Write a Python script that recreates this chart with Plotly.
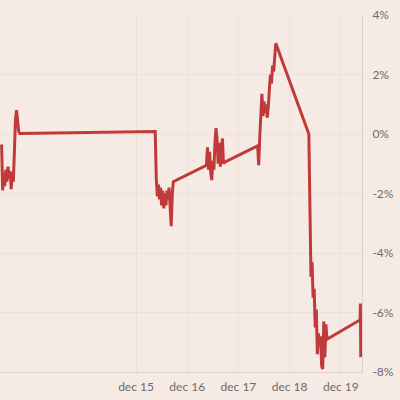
import pandas as pd
import plotly.graph_objects as go

# intraday % change, sampled every 30 minutes from the open (09:00)
dec12_values = [-0.35, -1.9, -1.3, -1.75, -1.2, -1.6, -1.1, -1.5, -1.25,
                -1.85, -1.3, -1.6, -0.6, 0.5, 0.8, 0.35, 0.1, 0.02]
dec15_values = [0.08, -1.5, -2.1, -1.7, -2.2, -1.8, -2.4, -1.9, -2.5,
                -2.0, -2.4, -1.9, -2.2, -1.8, -2.6, -3.1, -2.0, -1.6]
dec16_values = [-1.05, -0.45, -1.2, -0.6, -1.3, -1.55, -0.9, -1.2, -0.3,
                0.2, -0.2, -1.0, -0.3, -1.1, -0.6, -0.15, -1.0, -0.95]
dec17_values = [-0.4, -1.05, -0.1, 1.0, 1.35, 0.6, 1.1, 0.7, 1.0,
                0.55, 0.9, 1.5, 2.0, 1.7, 2.3, 2.1, 2.75, 3.05]
dec18_values = [0.0, -3.0, -4.8, -4.3, -5.5, -5.2, -6.5, -5.9, -7.4,
                -6.7, -7.1, -6.8, -7.8, -7.9, -6.3, -7.5, -6.4, -6.9]
# first minutes of dec 19, sampled every 10 minutes
dec19_values = [-6.25, -5.7, -7.5]

sessions = [
    ("2014-12-12 09:00", 30, dec12_values),
    ("2014-12-15 09:00", 30, dec15_values),
    ("2014-12-16 09:00", 30, dec16_values),
    ("2014-12-17 09:00", 30, dec17_values),
    ("2014-12-18 09:00", 30, dec18_values),
    ("2014-12-19 09:00", 10, dec19_values),
]

x_tick_dates = ["2014-12-15", "2014-12-16", "2014-12-17", "2014-12-18", "2014-12-19"]
x_tick_labels = ["dec 15", "dec 16", "dec 17", "dec 18", "dec 19"]
y_tick_values = [4, 2, 0, -2, -4, -6, -8]
y_tick_labels = ["4%", "2%", "0%", "-2%", "-4%", "-6%", "-8%"]

frames = []
for start, step, values in sessions:
    times = pd.date_range(start, periods=len(values), freq=f"{step}min")
    frames.append(pd.DataFrame({"time": times, "change": values}))
df = pd.concat(frames, ignore_index=True)

fig = go.Figure()
fig.add_trace(
    go.Scatter(
        x=df["time"],
        y=df["change"],
        mode="lines",
        line=dict(color="#c13a3a", width=3),
        hoverinfo="skip",
    )
)

bg = "#f6eae4"
fig.update_layout(
    width=400,
    height=400,
    margin=dict(l=0, r=38, t=15, b=28),
    paper_bgcolor=bg,
    plot_bgcolor=bg,
    showlegend=False,
    font=dict(family="Lato", size=12, color="#6e6a68"),
)

fig.update_xaxes(
    range=["2014-12-12 08:15", "2014-12-19 09:55"],
    tickvals=x_tick_dates,
    ticktext=x_tick_labels,
    showgrid=True,
    gridcolor="#efe0d6",
    gridwidth=1,
    showline=True,
    linecolor="#ddd0c8",
    linewidth=1,
    ticks="",
    ticklabelstandoff=4,
    zeroline=False,
)
fig.update_yaxes(
    range=[-8, 4],
    side="right",
    tickvals=y_tick_values,
    ticktext=y_tick_labels,
    showgrid=True,
    gridcolor="#efe0d6",
    gridwidth=1,
    showline=True,
    linecolor="#ddd0c8",
    linewidth=1,
    ticks="",
    ticklabelstandoff=7,
    zeroline=False,
)

# drop the browser's default page margin so the chart sits at the corner
fig.write_html(
    "out.html",
    config={"displayModeBar": False},
    post_script="document.body.style.margin='0';",
)
